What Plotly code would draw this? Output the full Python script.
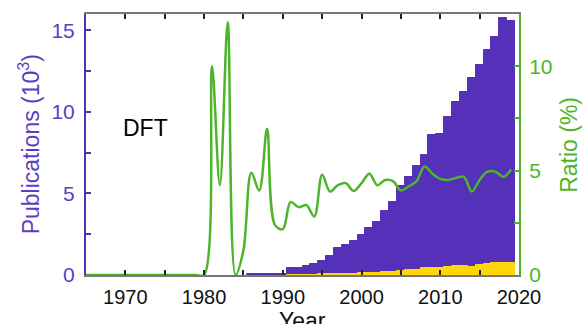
import plotly.graph_objects as go

# Publication counts per year (thousands)
pub_years = list(range(1986, 2020))
pub_total = [0.04, 0.05, 0.05, 0.06, 0.07, 0.42, 0.42, 0.53, 0.65, 0.83,
             1.14, 1.64, 1.81, 2.08, 2.47, 2.90, 3.28, 3.91, 4.46, 5.47,
             6.00, 6.71, 7.38, 8.59, 8.65, 9.67, 10.63, 11.24, 12.08, 12.88,
             13.81, 14.61, 15.76, 15.55]

# Subset of publications (thousands)
sub_years = list(range(1991, 2020))
sub_total = [0.01, 0.015, 0.02, 0.025, 0.035, 0.05, 0.07, 0.08, 0.09, 0.12,
             0.13, 0.14, 0.20, 0.21, 0.22, 0.28, 0.29, 0.42, 0.42, 0.43,
             0.52, 0.53, 0.57, 0.49, 0.63, 0.68, 0.74, 0.76, 0.76]

# Ratio of subset to total (%)
ratio_years = list(range(1965, 2020))
ratio_pct = [0.0] * 15 + [
    0.0, 10.0, 4.3, 12.1, 0.0, 1.2, 4.9, 4.05, 7.0, 2.4,
    2.2, 3.5, 3.25, 3.35, 2.8, 4.8, 4.0, 4.3, 4.4, 4.02,
    4.4, 4.85, 4.3, 4.55, 4.5, 4.05, 4.25, 4.5, 5.2, 4.85,
    4.6, 4.55, 4.65, 4.7, 4.0, 4.55, 4.95, 4.95, 4.7, 5.05]

PURPLE = "#5530b8"
PURPLE_TXT = "#5a3fc4"
YELLOW = "#ffd60a"
GREEN = "#4cb52a"
FONT = "Liberation Sans, Arial, sans-serif"

fig = go.Figure()
fig.add_trace(go.Bar(x=pub_years, y=pub_total, width=1,
                     marker=dict(color=PURPLE, line=dict(width=1, color=PURPLE)),
                     showlegend=False))
fig.add_trace(go.Bar(x=sub_years, y=sub_total, width=1,
                     marker=dict(color=YELLOW, line=dict(width=1, color=YELLOW)),
                     showlegend=False))
fig.add_trace(go.Scatter(x=ratio_years, y=ratio_pct, yaxis="y2", mode="lines",
                         line=dict(color=GREEN, width=2.5, shape="spline", smoothing=1),
                         showlegend=False))

fig.add_annotation(x=1972.6, y=9.0, xref="x", yref="y", text="DFT",
                   showarrow=False, font=dict(family=FONT, size=23, color="black"))

# Axis titles placed in the margins
fig.add_annotation(x=0.5, y=-0.176, xref="paper", yref="paper", text="Year",
                   showarrow=False, xanchor="center", yanchor="middle",
                   font=dict(family=FONT, size=23, color="#111111"))
fig.add_annotation(x=-0.132, y=0.5, xref="paper", yref="paper",
                   text="Publications (10<sup>3</sup>)", textangle=-90,
                   showarrow=False, xanchor="center", yanchor="middle",
                   font=dict(family=FONT, size=23, color=PURPLE_TXT))
fig.add_annotation(x=1.114, y=0.5, xref="paper", yref="paper",
                   text="Ratio (%)", textangle=-90,
                   showarrow=False, xanchor="center", yanchor="middle",
                   font=dict(family=FONT, size=23, color=GREEN))

fig.update_layout(
    width=582, height=324,
    margin=dict(l=86, r=63, t=14, b=49),
    paper_bgcolor="white", plot_bgcolor="white",
    barmode="overlay", bargap=0,
    font=dict(family=FONT),
    xaxis=dict(range=[1965, 2020], showgrid=False, zeroline=False, automargin=False,
               showline=True, linecolor="#777777", linewidth=1.5, mirror="ticks",
               ticks="inside", ticklen=5, tickwidth=1.5, tickcolor="#222222",
               tick0=1970, dtick=10, ticklabelstandoff=3,
               minor=dict(dtick=5, ticks="inside", ticklen=5, tickwidth=1.5,
                          tickcolor="#222222", showgrid=False),
               tickfont=dict(size=20, color="#111111")),
    yaxis=dict(range=[0, 16], showgrid=False, zeroline=False, automargin=False,
               showline=True, linecolor=PURPLE, linewidth=2,
               ticks="inside", ticklen=5, tickwidth=1.5, tickcolor=PURPLE,
               tick0=0, dtick=5, ticklabelstandoff=5,
               minor=dict(dtick=2.5, ticks="inside", ticklen=5, tickwidth=1.5,
                          tickcolor=PURPLE, showgrid=False),
               tickfont=dict(size=21, color=PURPLE_TXT)),
    yaxis2=dict(range=[0, 12.5], overlaying="y", side="right", automargin=False,
                showgrid=False, zeroline=False,
                showline=True, linecolor=GREEN, linewidth=2,
                ticks="inside", ticklen=5, tickwidth=1.5, tickcolor=GREEN,
                tick0=0, dtick=5, ticklabelstandoff=4,
                minor=dict(dtick=2.5, ticks="inside", ticklen=5, tickwidth=1.5,
                           tickcolor=GREEN, showgrid=False),
                tickfont=dict(size=21, color=GREEN)),
)

fig.write_html("out.html")
